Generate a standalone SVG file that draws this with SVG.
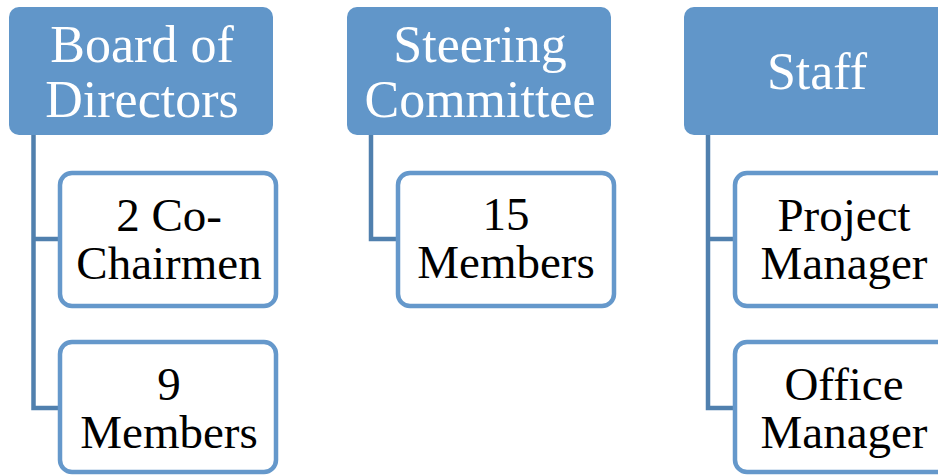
<svg xmlns="http://www.w3.org/2000/svg" width="938" height="476" viewBox="0 0 938 476">
<style>
.hdr{fill:#6196c9;}
.hdr-t{fill:#ffffff;font-family:"Liberation Serif","Times New Roman",serif;font-size:52px;text-anchor:middle;}
.child{fill:#ffffff;stroke:#6598cb;stroke-width:4.5;}
.child-t{fill:#000000;font-family:"Liberation Serif","Times New Roman",serif;font-size:47px;text-anchor:middle;}
.conn{fill:none;stroke:#5080ae;stroke-width:4.5;}
</style>
<rect width="938" height="476" fill="#ffffff"/>
<g id="connectors">
<path class="conn" d="M33.5 135 V408 H60 M33.5 239 H60"/>
<path class="conn" d="M371 135 V239 H398"/>
<path class="conn" d="M708 135 V408 H735 M708 239 H735"/>
</g>
<g id="board">
<rect class="hdr" x="9" y="7" width="264" height="128" rx="10"/>
<text class="hdr-t" x="142" y="62">Board of</text>
<text class="hdr-t" x="142" y="117">Directors</text>
</g>
<g id="cochairmen">
<rect class="child" x="60" y="173" width="216" height="133" rx="12"/>
<text class="child-t" x="169" y="231">2 Co-</text>
<text class="child-t" x="169" y="279">Chairmen</text>
</g>
<g id="board-members">
<rect class="child" x="60" y="342" width="216" height="130" rx="12"/>
<text class="child-t" x="169" y="400">9</text>
<text class="child-t" x="169" y="448">Members</text>
</g>
<g id="steering">
<rect class="hdr" x="347" y="7" width="264" height="128" rx="10"/>
<text class="hdr-t" x="480" y="62">Steering</text>
<text class="hdr-t" x="480" y="117">Committee</text>
</g>
<g id="steering-members">
<rect class="child" x="398" y="173" width="216" height="133" rx="12"/>
<text class="child-t" x="506" y="230">15</text>
<text class="child-t" x="506" y="278">Members</text>
</g>
<g id="staff">
<rect class="hdr" x="684" y="7" width="264" height="128" rx="10"/>
<text class="hdr-t" x="817" y="89">Staff</text>
</g>
<g id="project-manager">
<rect class="child" x="735" y="173" width="216" height="133" rx="12"/>
<text class="child-t" x="844" y="231">Project</text>
<text class="child-t" x="844" y="279">Manager</text>
</g>
<g id="office-manager">
<rect class="child" x="735" y="342" width="216" height="130" rx="12"/>
<text class="child-t" x="844" y="400">Office</text>
<text class="child-t" x="844" y="448">Manager</text>
</g>
</svg>
